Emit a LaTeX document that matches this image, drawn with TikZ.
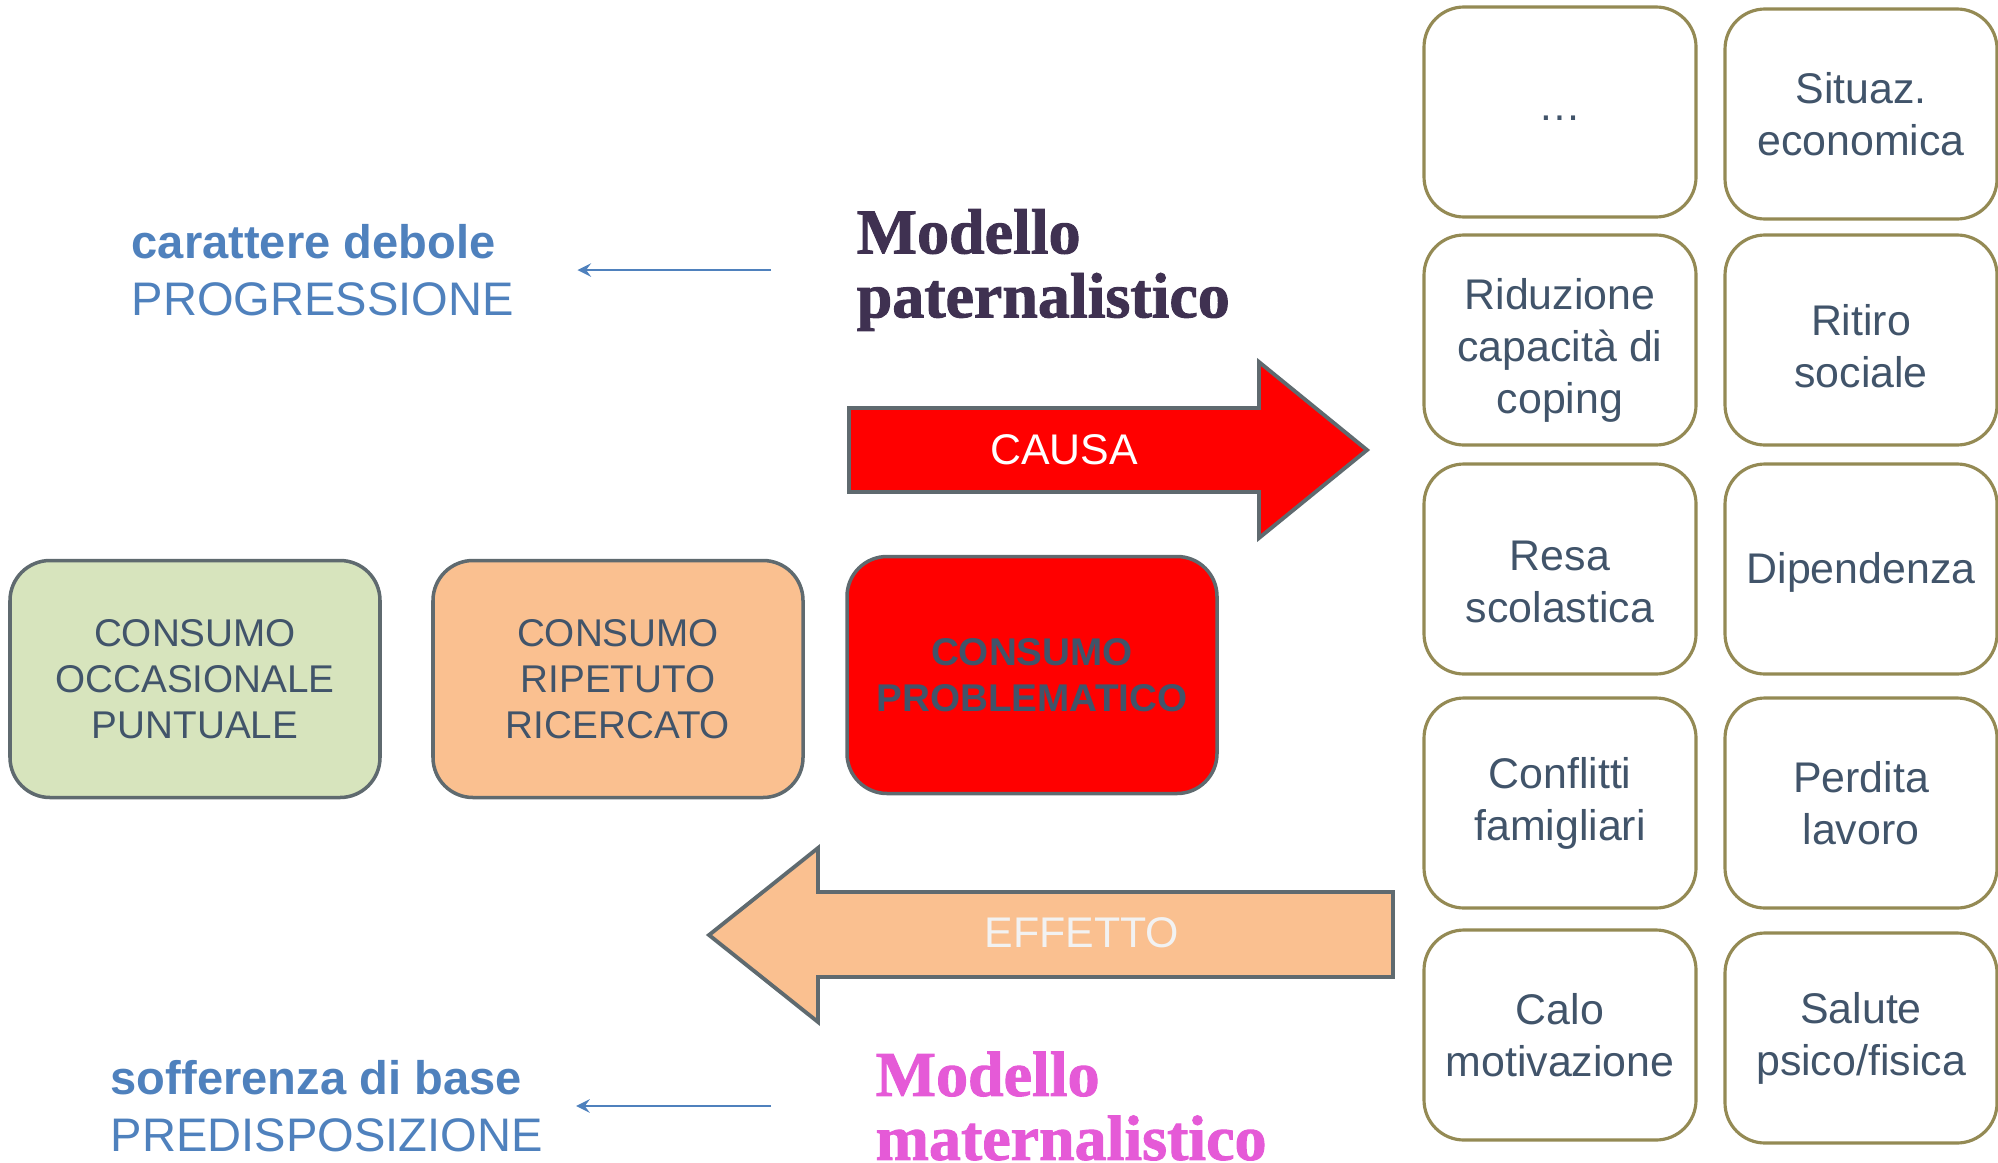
\documentclass[tikz,border=0pt]{standalone}
\usepackage{fontspec}
\setmainfont{Liberation Sans}
\newfontfamily\modelfont{Liberation Serif}[BoldFeatures={FakeBold=1.5}]

\definecolor{verde}{HTML}{D7E4BD}
\definecolor{arancio}{HTML}{FAC090}
\definecolor{rosso}{HTML}{FF0000}
\definecolor{bordo}{HTML}{5F6A6F}
\definecolor{oliva}{HTML}{948A54}
\definecolor{testo}{HTML}{41546A}
\definecolor{blu}{HTML}{4F81BD}
\definecolor{viola}{HTML}{3F3151}
\definecolor{magenta}{HTML}{E55AD7}

% prima riga piu' alta: abbassa il testo nel riquadro
\newcommand{\abbassa}[1]{\rule{0pt}{#1}}

\begin{document}
\begin{tikzpicture}[
    consumo/.style={draw=bordo, line width=1pt, rounded corners=0.4cm, minimum width=3.7cm, minimum height=2.37cm, align=center, text=testo, font=\fontsize{11}{13.1}\selectfont},
    effetto/.style={draw=oliva, line width=0.9pt, fill=white, rounded corners=0.4cm, minimum width=2.72cm, minimum height=2.1cm, align=center, text=testo, font=\fontsize{12.2}{14.8}\selectfont},
    freccia/.style={draw=bordo, line width=1.1pt},
    etichetta/.style={align=left, anchor=west, inner sep=0pt, text=blu, font=\fontsize{13.4}{16.2}\selectfont},
    modello/.style={align=left, anchor=west, inner sep=0pt, font=\modelfont\bfseries\fontsize{18.2}{18.2}\selectfont},
    arrow/.style={->, >=stealth, blu, line width=0.7pt}
]
    \useasboundingbox (0,0) rectangle (19.98,11.62);

    % Livelli di consumo
    \node[consumo, fill=verde] (occasionale) at (1.95,4.83) {CONSUMO\\OCCASIONALE\\PUNTUALE};
    \node[consumo, fill=arancio] (ripetuto) at (6.18,4.83) {CONSUMO\\RIPETUTO\\RICERCATO};
    \node[consumo, fill=rosso, font=\fontsize{11}{13.1}\selectfont\bfseries] (problematico) at (10.32,4.87) {CONSUMO\\PROBLEMATICO};

    % Frecce causa / effetto
    \draw[freccia, fill=rosso] (8.49,7.54) -- (12.59,7.54) -- (12.59,8.00) -- (13.67,7.12)
        -- (12.59,6.24) -- (12.59,6.70) -- (8.49,6.70) -- cycle;
    \node[white, font=\fontsize{12.2}{14}\selectfont] (causa) at (10.64,7.12) {CAUSA};
    \draw[freccia, fill=arancio] (13.93,2.70) -- (8.18,2.70) -- (8.18,3.14) -- (7.09,2.27)
        -- (8.18,1.40) -- (8.18,1.85) -- (13.93,1.85) -- cycle;
    \node[text=white!95!black, font=\fontsize{12.2}{14}\selectfont] (effetto) at (10.82,2.29) {EFFETTO};

    % Modelli
    \node[modello, text=viola] (paterno) at (8.56,8.92) {Modello\\paternalistico};
    \node[modello, text=magenta] (materno) at (8.75,0.56) {Modello\\maternalistico};

    % Etichette a sinistra
    \node[etichetta] (progressione) at (1.31,8.92) {\textbf{carattere debole}\\PROGRESSIONE};
    \node[etichetta] (predisposizione) at (1.10,0.56) {\textbf{sofferenza di base}\\PREDISPOSIZIONE};

    \draw[arrow, shorten <=0.85cm, shorten >=0.63cm] (paterno.west) -- (progressione.east);
    \draw[arrow, shorten <=1.04cm, shorten >=0.33cm] (materno.west) -- (predisposizione.east);

    % Conseguenze (griglia a destra)
    \node[effetto] (altro) at (15.6,10.5) {\abbassa{5pt}…};
    \node[effetto] (economica) at (18.61,10.48) {Situaz.\\economica};
    \node[effetto] (coping) at (15.6,8.22) {\abbassa{14.7pt}Riduzione\\capacità di\\coping};
    \node[effetto] (ritiro) at (18.61,8.22) {\abbassa{12.5pt}Ritiro\\sociale};
    \node[effetto] (scuola) at (15.6,5.93) {\abbassa{16pt}Resa\\scolastica};
    \node[effetto] (dipendenza) at (18.61,5.93) {\abbassa{10.5pt}Dipendenza};
    \node[effetto] (famiglia) at (15.6,3.59) {Conflitti\\famigliari};
    \node[effetto] (lavoro) at (18.61,3.59) {Perdita\\lavoro};
    \node[effetto] (motivazione) at (15.6,1.27) {Calo\\motivazione};
    \node[effetto] (salute) at (18.61,1.24) {Salute\\psico/fisica};
\end{tikzpicture}
\end{document}
